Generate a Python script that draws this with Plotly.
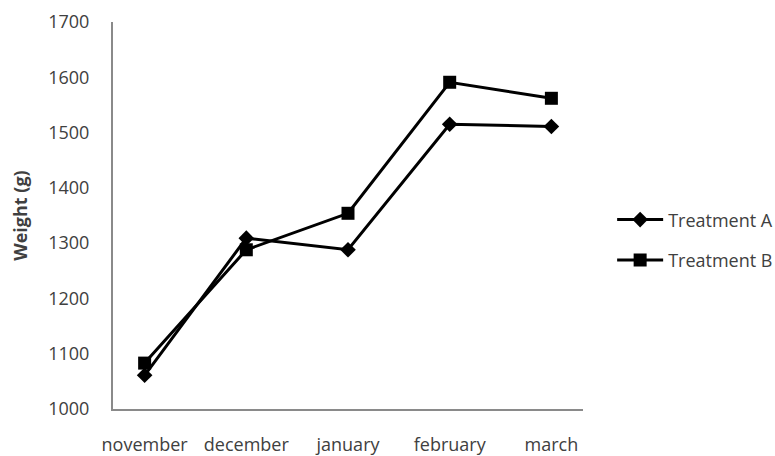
import plotly.graph_objects as go

months = ["november", "december", "january", "february", "march"]
treatment_a = [1061, 1309, 1288, 1515, 1511]
treatment_b = [1083, 1288, 1354, 1591, 1562]
y_ticks = [1000, 1100, 1200, 1300, 1400, 1500, 1600, 1700]

TEXT = "#404040"
AXIS = "#8a8a8a"
FONT = "Open Sans"

fig = go.Figure()
fig.add_trace(go.Scatter(
    x=months, y=treatment_a, name="Treatment A", mode="lines+markers",
    line=dict(color="black", width=3),
    marker=dict(symbol="diamond", size=12, color="black"),
    legendgroup="a",
))
fig.add_trace(go.Scatter(
    x=months, y=treatment_b, name="Treatment B", mode="lines+markers",
    line=dict(color="black", width=3),
    marker=dict(symbol="square", size=13, color="black"),
    legendgroup="b",
))

fig.update_layout(
    width=775, height=456,
    margin=dict(l=113, r=192, t=22, b=47, autoexpand=False),
    paper_bgcolor="white", plot_bgcolor="white",
    font=dict(family=FONT, size=18, color=TEXT),
    showlegend=True,
    legend=dict(
        x=1.062, xanchor="left", y=0.437, yanchor="middle",
        font=dict(family=FONT, size=18, color=TEXT),
        itemwidth=46, tracegroupgap=14, bgcolor="rgba(0,0,0,0)",
    ),
)
fig.update_xaxes(
    type="category", showline=True, linecolor=AXIS, linewidth=2,
    showgrid=False, zeroline=False, ticks="", ticklabelstandoff=18,
    tickfont=dict(family=FONT, size=18, color=TEXT),
)
fig.update_yaxes(
    range=[1000, 1700], tickvals=y_ticks, showline=True, linecolor=AXIS,
    linewidth=2, showgrid=False, zeroline=False, ticks="", ticklabelstandoff=18,
    tickfont=dict(family=FONT, size=18, color=TEXT),
    title=dict(text="<b>Weight (g)</b>", standoff=16,
               font=dict(family=FONT, size=18, color=TEXT)),
)

fig.write_html("out.html")
